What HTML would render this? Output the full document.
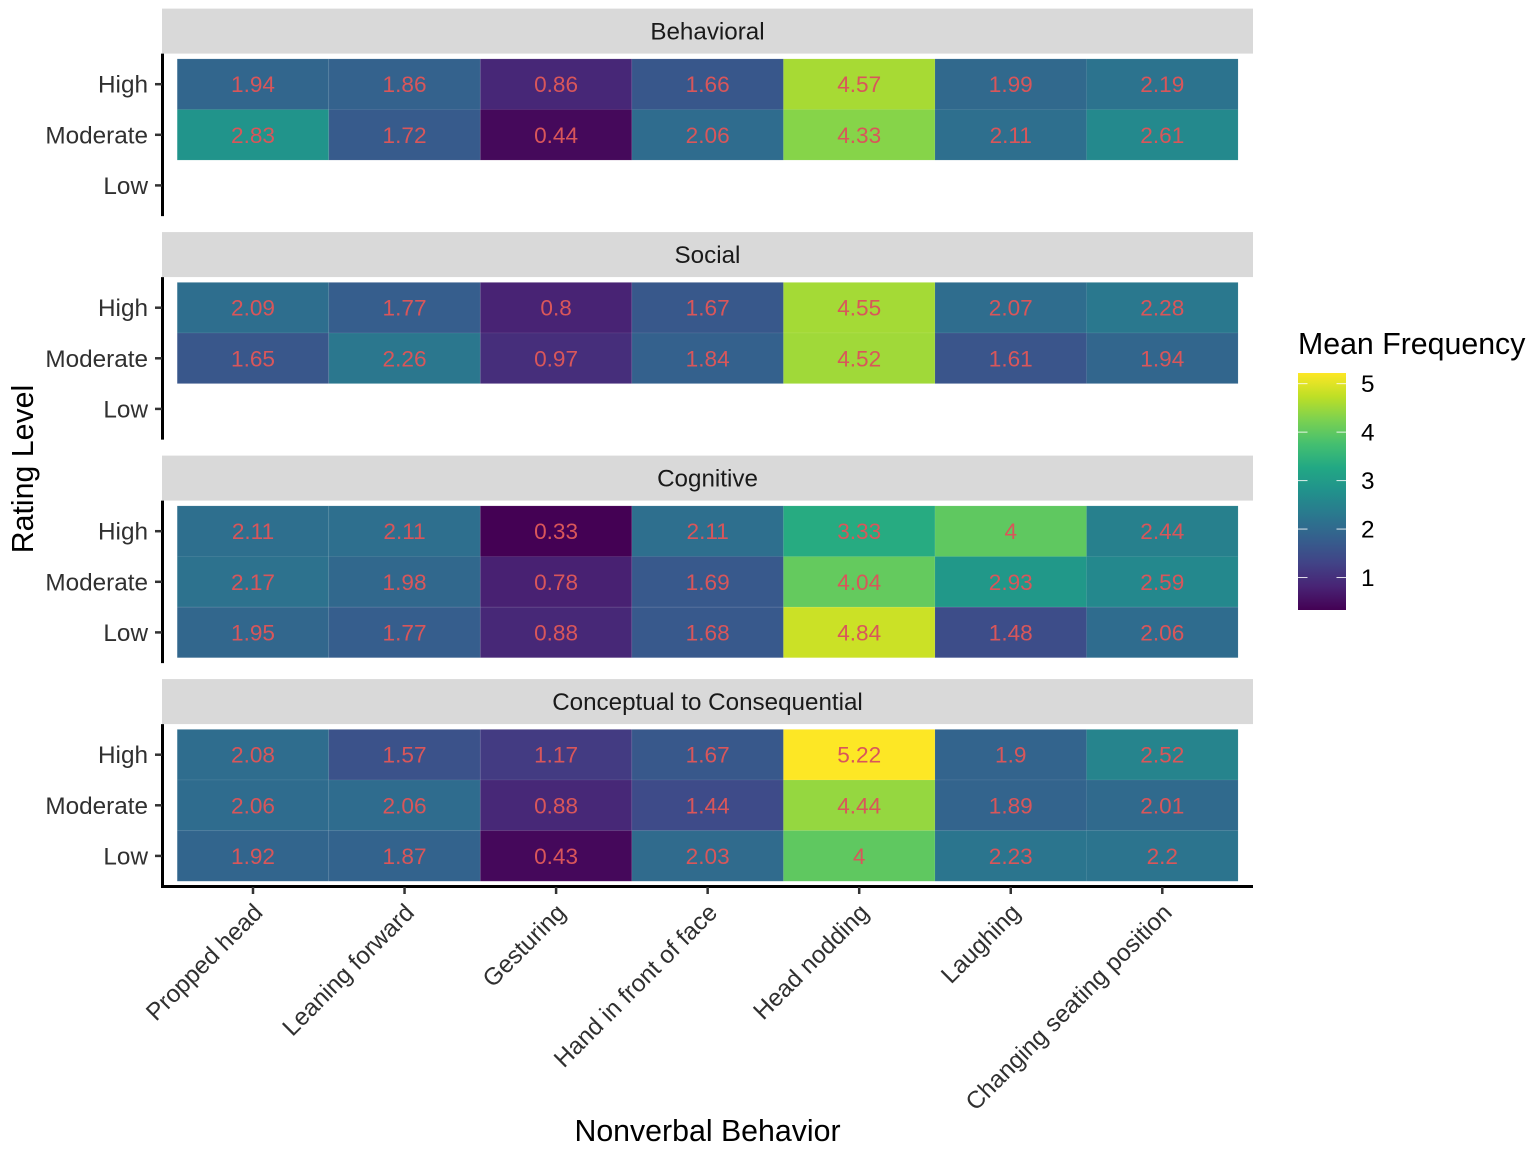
<!DOCTYPE html>
<html>
<head>
<meta charset="utf-8">
<title>Mean Frequency Heatmap</title>
<style>
html,body{margin:0;padding:0;background:#fff;}
svg{display:block;font-family:"Liberation Sans",Arial,sans-serif;}
</style>
</head>
<body>
<svg id="chart" xmlns="http://www.w3.org/2000/svg" width="1535" height="1152" viewBox="0 0 1535 1152"></svg>
<script>
const behaviors = ["Propped head","Leaning forward","Gesturing","Hand in front of face","Head nodding","Laughing","Changing seating position"];
const ratingLevels = ["High","Moderate","Low"];
const panelNames = ["Behavioral","Social","Cognitive","Conceptual to Consequential"];
const behavioralValues = [
  [1.94,1.86,0.86,1.66,4.57,1.99,2.19],
  [2.83,1.72,0.44,2.06,4.33,2.11,2.61],
  [null,null,null,null,null,null,null]
];
const socialValues = [
  [2.09,1.77,0.8,1.67,4.55,2.07,2.28],
  [1.65,2.26,0.97,1.84,4.52,1.61,1.94],
  [null,null,null,null,null,null,null]
];
const cognitiveValues = [
  [2.11,2.11,0.33,2.11,3.33,4,2.44],
  [2.17,1.98,0.78,1.69,4.04,2.93,2.59],
  [1.95,1.77,0.88,1.68,4.84,1.48,2.06]
];
const conceptualValues = [
  [2.08,1.57,1.17,1.67,5.22,1.9,2.52],
  [2.06,2.06,0.88,1.44,4.44,1.89,2.01],
  [1.92,1.87,0.43,2.03,4,2.23,2.2]
];
const legendTicks = [1,2,3,4,5];
const viridisStops = ["#440154","#482475","#414487","#355f8d","#2a788e","#21918c","#22a884","#44bf70","#7ad151","#bddf26","#fde725"];

const panelValues = [behavioralValues, socialValues, cognitiveValues, conceptualValues];
const allValues = panelValues.flat(2).filter(v => v !== null);
const domainMin = Math.min(...allValues);
const domainMax = Math.max(...allValues);

const svg = document.getElementById('chart');
const NS = 'http://www.w3.org/2000/svg';

function make(tag, attrs, parent, text) {
  const el = document.createElementNS(NS, tag);
  for (const k in attrs) el.setAttribute(k, attrs[k]);
  if (text !== undefined) el.textContent = text;
  (parent || svg).appendChild(el);
  return el;
}
function hexToRgb(h) {
  return [parseInt(h.slice(1,3),16), parseInt(h.slice(3,5),16), parseInt(h.slice(5,7),16)];
}
function viridis(t) {
  const c = Math.max(0, Math.min(1, t)) * (viridisStops.length - 1);
  const i = Math.min(Math.floor(c), viridisStops.length - 2);
  const f = c - i;
  const a = hexToRgb(viridisStops[i]);
  const b = hexToRgb(viridisStops[i + 1]);
  return 'rgb(' + a.map((v, n) => Math.round(v + (b[n] - v) * f)).join(',') + ')';
}
function colorScale(v) { return viridis((v - domainMin) / (domainMax - domainMin)); }

const panelTop = p => 53.6 + p * 223.5;
const xScale = i => 253 + i * 151.55;
const yScale = (p, r) => panelTop(p) + 30.6 + r * 50.6;
const cellW = 151.55;
const cellH = 50.6;
const legendTop = 373;
const legendBottom = 610;
const legendY = v => legendBottom - (v - domainMin) / (domainMax - domainMin) * (legendBottom - legendTop);

panelNames.forEach((name, p) => {
  const group = make('g', {});
  
  

  const strip = make('rect', {x:162, y:panelTop(p) - 45, width:1091, height:45, fill:'#d9d9d9'}, group);
  
  

  const stripLabel = make('text', {x:707.5, y:panelTop(p) - 14.2, 'text-anchor':'middle', 'font-size':24.2, fill:'#1a1a1a'}, group, name);
  
  

  panelValues[p].forEach((row, r) => {
    row.forEach((v, c) => {
      if (v === null) return;
      const cell = make('rect', {x:xScale(c) - cellW / 2, y:yScale(p, r) - cellH / 2, width:cellW, height:cellH, fill:colorScale(v), stroke:'rgba(255,255,255,0.06)', 'stroke-width':1}, group);
      
      
    });
  });
  panelValues[p].forEach((row, r) => {
    row.forEach((v, c) => {
      if (v === null) return;
      const label = make('text', {x:xScale(c), y:yScale(p, r) + 8, 'text-anchor':'middle', 'font-size':22.6, fill:'#d9565a'}, group, String(v));
      
      
    });
  });

  const yAxis = make('line', {x1:162.5, x2:162.5, y1:panelTop(p), y2:panelTop(p) + 162.5, stroke:'#000', 'stroke-width':3}, group);
  
  

  ratingLevels.forEach((lvl, r) => {
    const tick = make('line', {x1:155, x2:162, y1:yScale(p, r), y2:yScale(p, r), stroke:'#333', 'stroke-width':2.5}, group);
    
    
    const tl = make('text', {x:148, y:yScale(p, r) + 8.5, 'text-anchor':'end', 'font-size':24.3, fill:'#303030'}, group, lvl);
    
    
  });
});

const xAxis = make('line', {x1:161, x2:1253, y1:886.5, y2:886.5, stroke:'#000', 'stroke-width':3});



behaviors.forEach((b, i) => {
  const tick = make('line', {x1:xScale(i), x2:xScale(i), y1:887, y2:894, stroke:'#333', 'stroke-width':2.5});
  
  
  const tx = xScale(i) + 11;
  const ty = 914;
  const tl = make('text', {x:tx, y:ty, 'text-anchor':'end', 'font-size':24.3, fill:'#303030', transform:'rotate(-45 ' + tx + ' ' + ty + ')'}, null, b);
  
  
});

const xTitle = make('text', {x:707.5, y:1141, 'text-anchor':'middle', 'font-size':30.3, fill:'#000'}, null, 'Nonverbal Behavior');



const yTitle = make('text', {x:33, y:469, 'text-anchor':'middle', 'font-size':30.3, fill:'#000', transform:'rotate(-90 33 469)'}, null, 'Rating Level');



const legendTitle = make('text', {x:1298, y:354, 'font-size':30.3, fill:'#000'}, null, 'Mean Frequency');



const defs = make('defs', {});
const grad = make('linearGradient', {id:'legendGradient', x1:0, y1:1, x2:0, y2:0}, defs);
viridisStops.forEach((col, i) => {
  make('stop', {offset:i / (viridisStops.length - 1), 'stop-color':col}, grad);
});
const legendBar = make('rect', {x:1298, y:legendTop, width:48, height:legendBottom - legendTop, fill:'url(#legendGradient)'});



legendTicks.forEach(t => {
  const y = legendY(t);
  const l = make('line', {x1:1298, x2:1307.5, y1:y, y2:y, stroke:'#fff', 'stroke-width':1, opacity:0.85});
  
  
  const r = make('line', {x1:1336.5, x2:1346, y1:y, y2:y, stroke:'#fff', 'stroke-width':1, opacity:0.85});
  
  
  const lab = make('text', {x:1361, y:y + 8.5, 'font-size':24.3, fill:'#000'}, null, String(t));
  
  
});
</script>
</body>
</html>
